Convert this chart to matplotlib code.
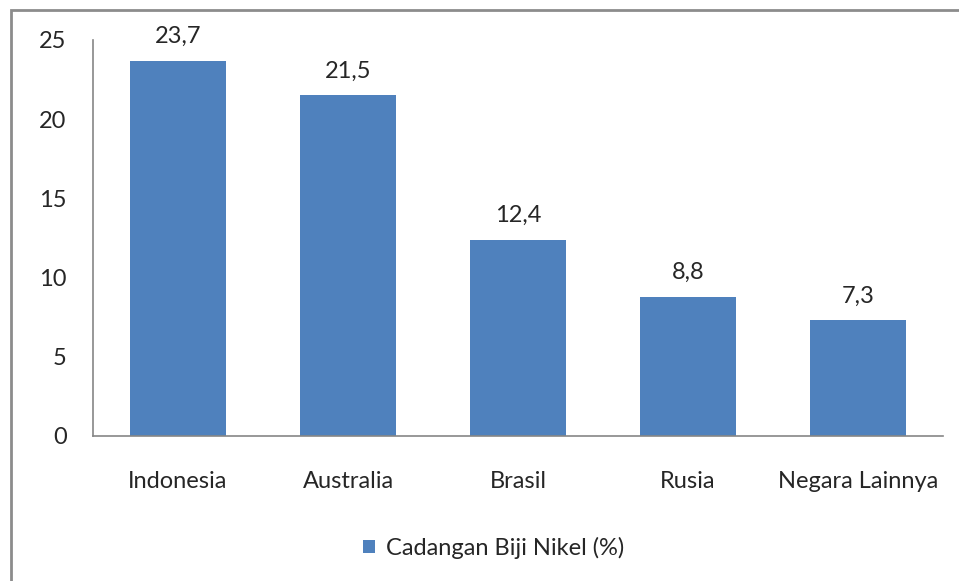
import matplotlib
matplotlib.use("Agg")
import matplotlib.pyplot as plt
from matplotlib.patches import Rectangle

categories = ["Indonesia", "Australia", "Brasil", "Rusia", "Negara Lainnya"]
values = [23.7, 21.5, 12.4, 8.8, 7.3]
value_labels = ["23,7", "21,5", "12,4", "8,8", "7,3"]
yticks = [0, 5, 10, 15, 20, 25]
series_name = "Cadangan Biji Nikel (%)"

plt.rcParams['font.family'] = ['Lato', 'DejaVu Sans']
txt = '#262626'
bar_color = '#4F81BD'
spine_color = '#868686'
fs = 17

fig = plt.figure(figsize=(9.59, 5.81), dpi=100)
ax = fig.add_axes([93/959, 1-436/581, 850/959, 396/581])

x = list(range(len(categories)))
bars = ax.bar(x, values, width=0.57, color=bar_color, label=series_name, zorder=2)
for xi, v, lab in zip(x, values, value_labels):
    ax.annotate(lab, (xi, v), xytext=(0, 12.5), textcoords='offset points',
                ha='center', va='baseline', fontsize=fs, color=txt)

ax.set_xlim(-0.5, len(categories) - 0.5)
ax.set_ylim(0, 25)
ax.set_yticks(yticks)
ax.set_yticklabels([str(t) for t in yticks], fontsize=fs, color=txt)
ax.set_xticks(x)
ax.set_xticklabels(categories, fontsize=fs, color=txt)
ax.tick_params(axis='both', length=0)
ax.tick_params(axis='y', pad=19)
ax.tick_params(axis='x', pad=25)
for s in ['top', 'right']:
    ax.spines[s].set_visible(False)
for s in ['left', 'bottom']:
    ax.spines[s].set_color(spine_color)
    ax.spines[s].set_linewidth(1.2)

leg = fig.legend(handles=[bars], labels=[series_name], loc='center',
                 bbox_to_anchor=(494/959, 1-548/581), frameon=False,
                 fontsize=fs, handlelength=0.5, handleheight=0.5,
                 handletextpad=0.47, borderpad=0, borderaxespad=0)
for t in leg.get_texts():
    t.set_color(txt)

border = Rectangle((11/959, -0.05), 1.2, 1 - 10/581 + 0.05, transform=fig.transFigure,
                   fill=False, edgecolor='#8c8c8c', linewidth=2, clip_on=False)
fig.patches.append(border)

fig.savefig("out.png", dpi=100)
